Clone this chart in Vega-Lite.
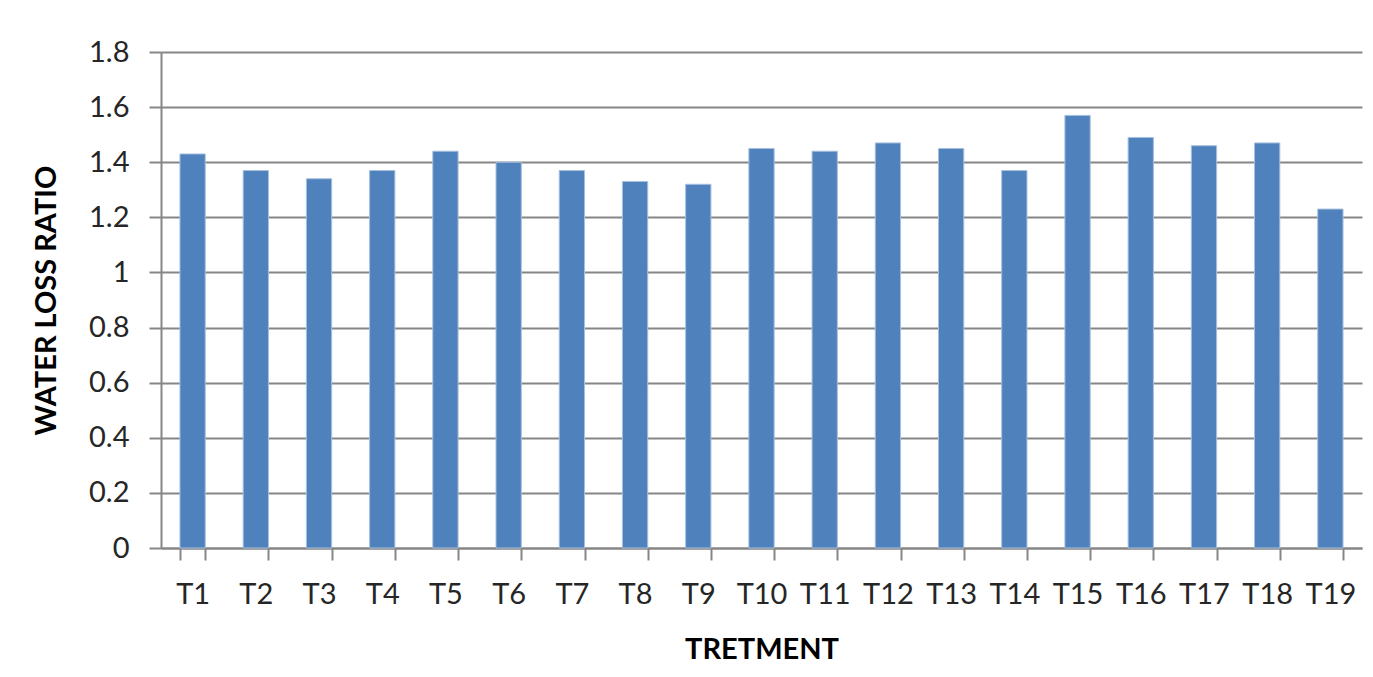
{
  "$schema": "https://vega.github.io/schema/vega-lite/v6.json",
  "width": 1201,
  "height": 496,
  "autosize": {"type": "none"},
  "padding": {"left": 161, "top": 52, "right": 11, "bottom": 129},
  "background": "white",
  "data": {
    "values": [
      {"treatment": "T1", "ratio": 1.43},
      {"treatment": "T2", "ratio": 1.37},
      {"treatment": "T3", "ratio": 1.34},
      {"treatment": "T4", "ratio": 1.37},
      {"treatment": "T5", "ratio": 1.44},
      {"treatment": "T6", "ratio": 1.40},
      {"treatment": "T7", "ratio": 1.37},
      {"treatment": "T8", "ratio": 1.33},
      {"treatment": "T9", "ratio": 1.32},
      {"treatment": "T10", "ratio": 1.45},
      {"treatment": "T11", "ratio": 1.44},
      {"treatment": "T12", "ratio": 1.47},
      {"treatment": "T13", "ratio": 1.45},
      {"treatment": "T14", "ratio": 1.37},
      {"treatment": "T15", "ratio": 1.57},
      {"treatment": "T16", "ratio": 1.49},
      {"treatment": "T17", "ratio": 1.46},
      {"treatment": "T18", "ratio": 1.47},
      {"treatment": "T19", "ratio": 1.23}
    ]
  },
  "mark": {"type": "bar", "color": "#4F81BD", "stroke": "#A7C0DE", "strokeWidth": 1},
  "encoding": {
    "x": {
      "field": "treatment",
      "type": "nominal",
      "sort": null,
      "scale": {"paddingInner": 0.6, "paddingOuter": 0.3},
      "axis": {
        "title": "TRETMENT",
        "labelAngle": 0,
        "tickBand": "extent",
        "tickSize": 12,
        "labelPadding": 20,
        "titlePadding": 26
      }
    },
    "y": {
      "field": "ratio",
      "type": "quantitative",
      "scale": {"domain": [0, 1.8], "nice": false},
      "axis": {
        "title": "WATER LOSS RATIO",
        "values": [0, 0.2, 0.4, 0.6, 0.8, 1, 1.2, 1.4, 1.6, 1.8],
        "format": "~g",
        "tickSize": 12,
        "labelPadding": 20,
        "titlePadding": 27,
        "grid": true
      }
    }
  },
  "config": {
    "view": {"stroke": null},
    "font": "Lato",
    "axis": {
      "labelFont": "Lato",
      "labelFontSize": 29,
      "labelColor": "#262626",
      "titleFont": "Lato",
      "titleFontSize": 29,
      "titleFontWeight": "bold",
      "titleColor": "#000000",
      "domainColor": "#868686",
      "domainWidth": 2,
      "tickColor": "#868686",
      "tickWidth": 2,
      "gridColor": "#868686",
      "gridWidth": 2,
      "gridOpacity": 1
    }
  }
}
